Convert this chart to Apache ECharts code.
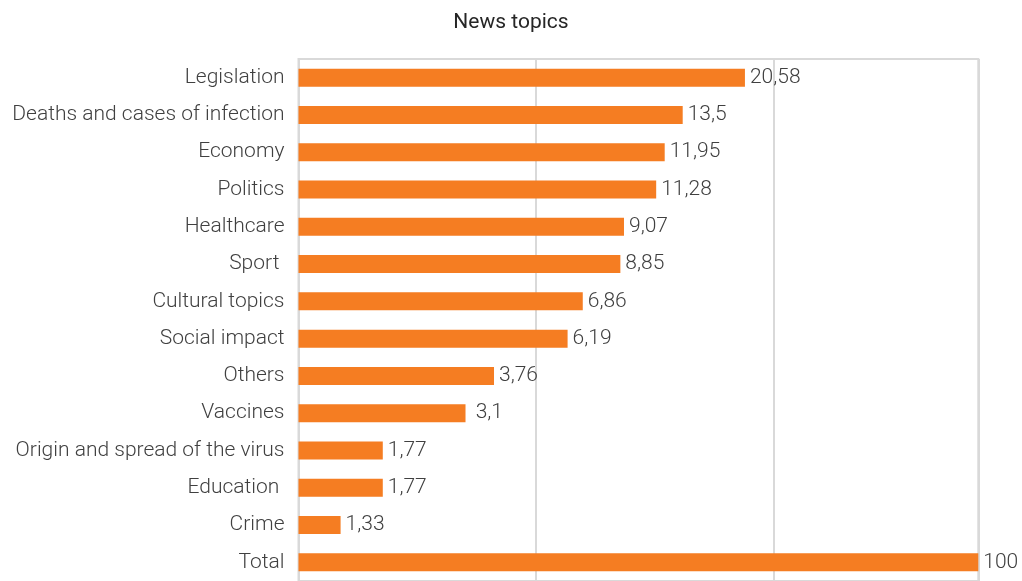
<!DOCTYPE html>
<html>
<head>
<meta charset="utf-8">
<script src="https://cdn.jsdelivr.net/npm/echarts@6/dist/echarts.min.js"></script>
<style>html,body{margin:0;padding:0;background:#fff}#c{width:1022px;height:581px}</style>
</head>
<body>
<div id="c"></div>
<script>
const titleText = 'News topics';
const categories = ['Legislation','Deaths and cases of infection','Economy','Politics','Healthcare','Sport ','Cultural topics','Social impact','Others','Vaccines','Origin and spread of the virus','Education ','Crime','Total'];
const values = [20.58, 13.5, 11.95, 11.28, 9.07, 8.85, 6.86, 6.19, 3.76, 3.1, 1.77, 1.77, 1.33, 100];
const valueLabels = ['20,58','13,5','11,95','11,28','9,07','8,85','6,86','6,19','3,76',' 3,1','1,77','1,77','1,33','100'];

const chart = echarts.init(document.getElementById('c'), null, {renderer: 'canvas'});
chart.setOption({
  animation: false,
  backgroundColor: '#ffffff',
  textStyle: {fontFamily: 'Roboto'},
  title: {
    text: titleText, left: 'center', top: 7,
    textStyle: {fontFamily: 'Roboto', fontSize: 21, fontWeight: 'normal', color: '#262626'}
  },
  grid: {
    left: 298.5, right: 43.7, top: 59, height: 524.7,
    show: true, borderColor: '#d9d9d9', borderWidth: 2, backgroundColor: 'transparent'
  },
  xAxis: {
    type: 'log', logBase: 5, min: 1, max: 100,
    axisLabel: {show: false}, axisTick: {show: false}, axisLine: {show: false},
    splitLine: {show: true, lineStyle: {color: '#d9d9d9', width: 2}}
  },
  yAxis: {
    type: 'category', data: categories, inverse: true,
    axisTick: {show: false}, axisLine: {show: false},
    axisLabel: {fontFamily: 'Roboto', fontSize: 21, fontWeight: 300, color: '#404040', margin: 14}
  },
  series: [{
    type: 'bar', data: values, barWidth: 18,
    itemStyle: {color: '#F57D22'},
    label: {
      show: true, position: 'right', distance: 5,
      fontFamily: 'Roboto', fontSize: 21, fontWeight: 300, color: '#404040',
      formatter: p => valueLabels[p.dataIndex]
    }
  }]
});
</script>
</body>
</html>
